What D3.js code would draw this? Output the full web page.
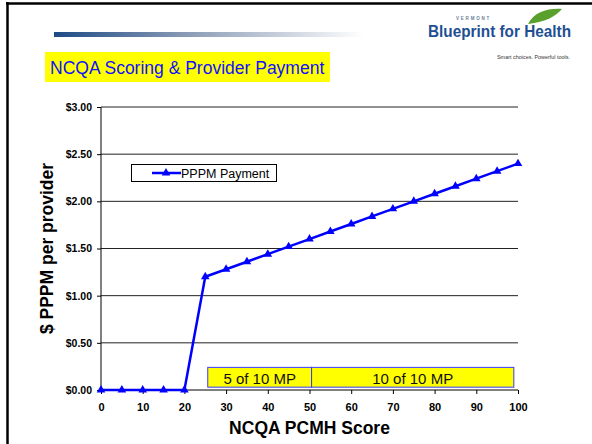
<!DOCTYPE html>
<html>
<head>
<meta charset="utf-8">
<script src="https://d3js.org/d3.v7.min.js"></script>
<style>
  body { margin: 0; background: #fff; }
  svg { display: block; font-family: Arial, "Liberation Sans", sans-serif; }
</style>
</head>
<body>
<div id="chart"></div>
<script>
  // chart data
  var scores = [0, 5, 10, 15, 20, 25, 30, 35, 40, 45, 50, 55, 60, 65, 70, 75, 80, 85, 90, 95, 100];
  var payments = [0, 0, 0, 0, 0, 1.20, 1.28, 1.36, 1.44, 1.52, 1.60, 1.68, 1.76, 1.84, 1.92, 2.00, 2.08, 2.16, 2.24, 2.32, 2.40];
  var yTicks = [0, 0.5, 1, 1.5, 2, 2.5, 3];
  var xTicks = [0, 10, 20, 30, 40, 50, 60, 70, 80, 90, 100];
  var bandLabels = ["5 of 10 MP", "10 of 10 MP"];
  var bandStart = [25.6, 50.5];
  var bandEnd = [50.5, 99];
  var bandRange = [0.03, 0.24];

  var width = 592, height = 444;
  var svg = d3.select("#chart").append("svg").attr("width", width).attr("height", height);

  // slide frame
  svg.append("line").attr("x1", 7.5).attr("x2", 7.5).attr("y1", 2).attr("y2", 444)
     .attr("stroke", "#000").attr("stroke-width", 2.5);
  svg.append("line").attr("x1", 6).attr("x2", 592).attr("y1", 3.5).attr("y2", 3.5)
     .attr("stroke", "#000").attr("stroke-width", 2.5);

  // header gradient bar
  var defs = svg.append("defs");
  var grad = defs.append("linearGradient").attr("id", "bar");
  grad.append("stop").attr("offset", "0%").attr("stop-color", "#1d4a85");
  grad.append("stop").attr("offset", "45%").attr("stop-color", "#8f9fb8");
  grad.append("stop").attr("offset", "100%").attr("stop-color", "#ffffff");
  svg.append("rect").attr("x", 54).attr("y", 32).attr("width", 310).attr("height", 5)
     .attr("fill", "url(#bar)");

  // logo
  var logo = svg.append("g");
  logo.append("text").attr("x", 456).attr("y", 20).attr("font-size", 4.5)
      .attr("font-weight", "bold").attr("fill", "#6b7f99").attr("letter-spacing", 1.8).text("VERMONT");
  logo.append("path").attr("d", "M528,24 C534,12 548,8 562,9 C556,16 546,22 528,24 Z")
      .attr("fill", "#5aa02c");
  logo.append("text").attr("x", 428).attr("y", 37).attr("font-size", 17).attr("font-weight", "bold")
      .attr("fill", "#1f4f93").attr("textLength", 143).attr("lengthAdjust", "spacingAndGlyphs")
      .text("Blueprint for Health");
  logo.append("text").attr("x", 497).attr("y", 59).attr("font-size", 5.5)
      .attr("fill", "#333").attr("textLength", 73).attr("lengthAdjust", "spacingAndGlyphs")
      .text("Smart choices. Powerful tools.");

  // title
  svg.append("rect").attr("x", 45).attr("y", 52).attr("width", 285).attr("height", 30).attr("fill", "#ffff00");
  svg.append("text").attr("x", 50).attr("y", 74).attr("font-size", 17.5).attr("fill", "#1010ff")
     .text("NCQA Scoring & Provider Payment");

  // scales
  var x = d3.scaleLinear().domain([0, 100]).range([101, 518]);
  var y = d3.scaleLinear().domain([0, 3]).range([390, 107]);

  // gridlines
  svg.append("g").selectAll("line").data(yTicks.slice(1)).enter().append("line")
     .attr("x1", x(0)).attr("x2", x(100))
     .attr("y1", function(d) { return y(d); }).attr("y2", function(d) { return y(d); })
     .attr("stroke", "#222").attr("stroke-width", 1);

  // bands
  var bands = svg.append("g");
  bandLabels.forEach(function(label, i) {
    bands.append("rect")
      .attr("x", x(bandStart[i])).attr("y", y(bandRange[1]))
      .attr("width", x(bandEnd[i]) - x(bandStart[i]))
      .attr("height", y(bandRange[0]) - y(bandRange[1]))
      .attr("fill", "#ffff00").attr("stroke", "#3a3aff").attr("stroke-width", 1);
    bands.append("text")
      .attr("x", (x(bandStart[i]) + x(bandEnd[i])) / 2).attr("y", y(bandRange[0]) - 3)
      .attr("text-anchor", "middle").attr("font-size", 15).attr("fill", "#111")
      .text(label);
  });

  // axes
  var yAxis = d3.axisLeft(y).tickValues(yTicks).tickSize(4).tickFormat(d3.format("$.2f"));
  var xAxis = d3.axisBottom(x).tickValues(xTicks).tickSize(4).tickFormat(d3.format("d"));

  var gy = svg.append("g").attr("transform", "translate(" + x(0) + ",0)").call(yAxis);
  gy.select(".domain").attr("stroke", "#000").attr("d", "M0," + y(3) + "V" + y(0));
  gy.selectAll("text").attr("font-size", 10.5).attr("font-weight", "bold").attr("fill", "#000")
    .attr("font-family", "Arial, 'Liberation Sans', sans-serif").attr("dx", -2);

  var gx = svg.append("g").attr("transform", "translate(0," + y(0) + ")").call(xAxis);
  gx.select(".domain").attr("stroke", "#000").attr("d", "M" + x(0) + ",0H" + x(100));
  gx.selectAll("text").attr("font-size", 11).attr("font-weight", "bold").attr("fill", "#000")
    .attr("font-family", "Arial, 'Liberation Sans', sans-serif").attr("dy", "1.25em");

  // axis titles
  svg.append("text").attr("x", (x(0) + x(100)) / 2).attr("y", 434).attr("text-anchor", "middle")
     .attr("font-size", 17.5).attr("font-weight", "bold").text("NCQA PCMH Score");
  svg.append("text").attr("transform", "translate(53," + (y(0) + y(3)) / 2 + ") rotate(-90)")
     .attr("text-anchor", "middle").attr("font-size", 17.5).attr("font-weight", "bold")
     .text("$ PPPM per provider");

  // series
  var pts = scores.map(function(s, i) { return [s, payments[i]]; });
  var line = d3.line().x(function(d) { return x(d[0]); }).y(function(d) { return y(d[1]); });
  svg.append("path").attr("d", line(pts)).attr("fill", "none")
     .attr("stroke", "#0000ff").attr("stroke-width", 2.5);
  var tri = d3.symbol().type(d3.symbolTriangle).size(32);
  svg.append("g").selectAll("path").data(pts).enter().append("path")
     .attr("d", tri).attr("fill", "#0000ff")
     .attr("transform", function(d) { return "translate(" + x(d[0]) + "," + y(d[1]) + ")"; });

  // legend
  var lg = svg.append("g");
  lg.append("rect").attr("x", 131.5).attr("y", 164.5).attr("width", 145).attr("height", 17)
    .attr("fill", "#fff").attr("stroke", "#000").attr("stroke-width", 1);
  lg.append("line").attr("x1", 152).attr("x2", 181).attr("y1", 173).attr("y2", 173)
    .attr("stroke", "#0000ff").attr("stroke-width", 2.5);
  lg.append("path").attr("d", tri).attr("fill", "#0000ff").attr("transform", "translate(166,173)");
  lg.append("text").attr("x", 181).attr("y", 177.5).attr("font-size", 12.5).attr("fill", "#000")
    .text("PPPM Payment");
</script>
</body>
</html>
